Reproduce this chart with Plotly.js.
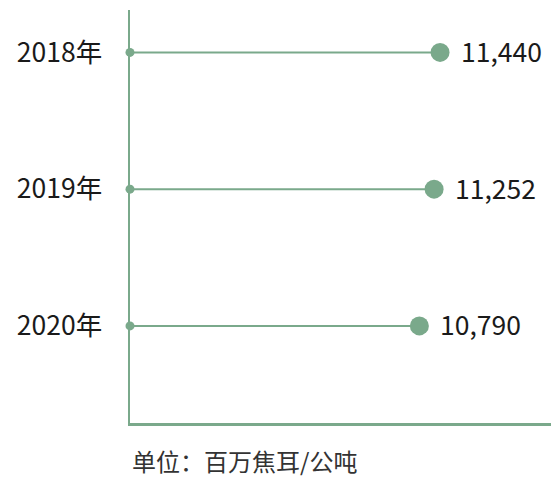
<!DOCTYPE html>
<html>
<head>
<meta charset="utf-8">
<script src="https://cdn.plot.ly/plotly-3.0.1.min.js"></script>
<style>html,body{margin:0;padding:0;background:#fff;}#chart{width:551px;height:479px;}</style>
</head>
<body>
<div id="chart"></div>
<script>
const years = ["2018年", "2019年", "2020年"];
const values = [11440, 11252, 10790];
const valueLabels = ["11,440", "11,252", "10,790"];
const unitNote = "单位：百万焦耳/公吨";

const green = "#7aa98b";
const xMin = 1700, xMax = 14925;
const font = "'Noto Sans CJK SC', 'Noto Sans', sans-serif";

const lineX = [], lineY = [];
years.forEach((y, i) => { lineX.push(xMin, values[i], null); lineY.push(y, y, null); });

const traces = [
  { type: "scatter", mode: "lines", x: lineX, y: lineY, line: {color: green, width: 2}, hoverinfo: "skip", cliponaxis: false },
  { type: "scatter", mode: "markers", x: years.map(() => xMin), y: years, marker: {color: green, size: 9}, hoverinfo: "skip", cliponaxis: false },
  { type: "scatter", mode: "markers", x: values, y: years, marker: {color: green, size: 19}, cliponaxis: false }
];

const labelAnns = years.map((y, i) => ({
  x: values[i], y: y, xref: "x", yref: "y", text: valueLabels[i], showarrow: false,
  xanchor: "left", yanchor: "middle", xshift: 19, yshift: 2,
  font: {family: font, size: 26.5, color: "#1a1a1a"}
}));

const layout = {
  width: 551, height: 479,
  margin: {l: 130, r: 0, t: 10, b: 56},
  showlegend: false,
  paper_bgcolor: "#fff", plot_bgcolor: "#fff",
  font: {family: font, color: "#1a1a1a"},
  xaxis: { range: [xMin, xMax], showgrid: false, zeroline: false, showticklabels: false, ticks: "",
           showline: true, linecolor: green, linewidth: 3 },
  yaxis: { type: "category", categoryarray: years, range: [2.71, -0.31], showgrid: false, zeroline: false,
           showline: true, linecolor: green, linewidth: 2.5, ticks: "", ticklabelstandoff: 20,
           tickfont: {family: font, size: 26.5, color: "#1a1a1a"} },
  annotations: labelAnns.concat([{ xref: "paper", yref: "paper", x: 0.271, y: -0.092, xanchor: "center", yanchor: "middle",
                  showarrow: false, borderpad: 0, text: unitNote, font: {family: font, size: 24, color: "#333"} }])
};

Plotly.newPlot("chart", traces, layout, {displayModeBar: false, staticPlot: true});
</script>
</body>
</html>
